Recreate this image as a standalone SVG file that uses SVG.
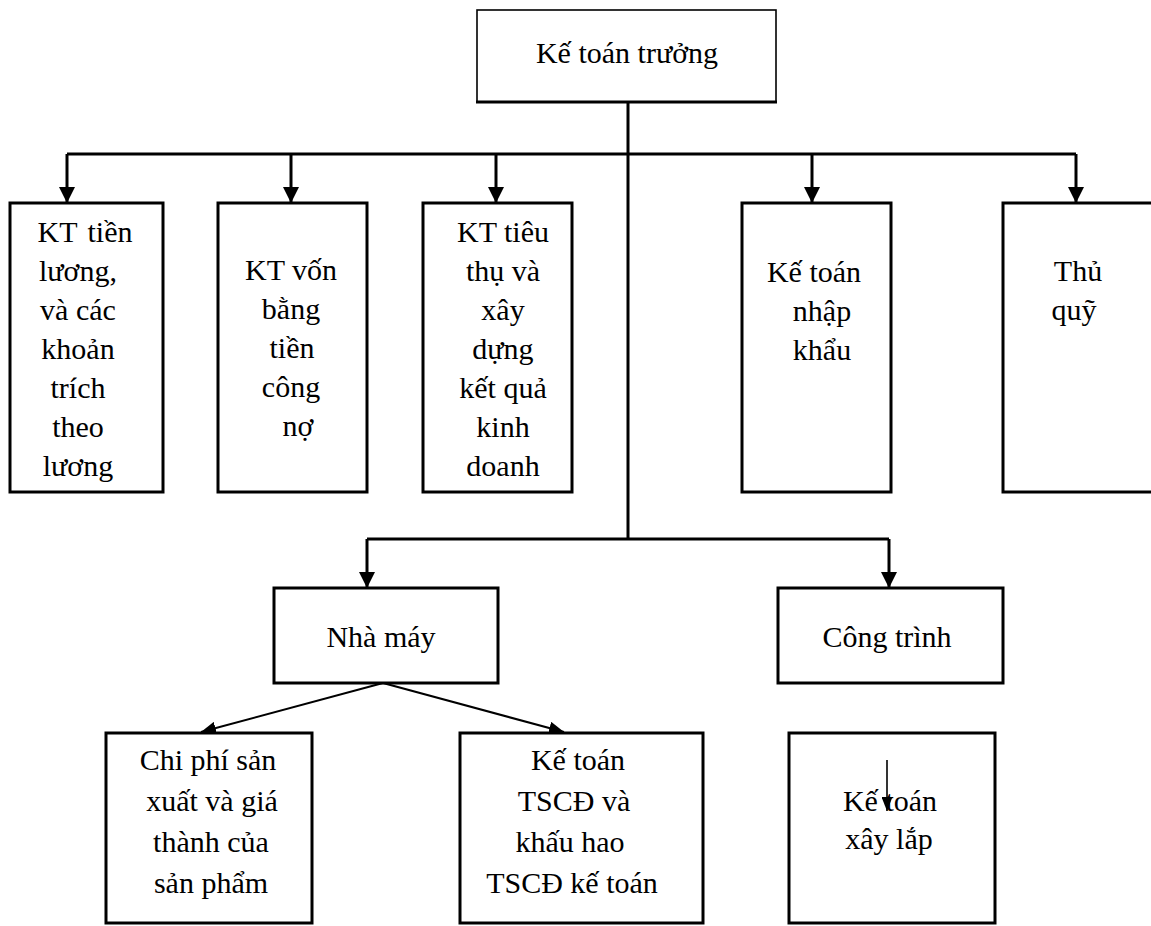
<svg xmlns="http://www.w3.org/2000/svg" width="1151" height="926" viewBox="0 0 1151 926">
<style>
.box{fill:#fff;stroke:#000;stroke-width:3}
.thin{fill:#fff;stroke:#000;stroke-width:1.6}
.t{font-family:"Liberation Serif","Times New Roman",serif;font-size:30px;fill:#000;text-anchor:middle}
.c{fill:none;stroke:#000;stroke-width:3}
.d{fill:none;stroke:#000;stroke-width:2}
.s{fill:none;stroke:#000;stroke-width:1.6}
</style>
<defs>
<marker id="ah" markerUnits="userSpaceOnUse" markerWidth="16" markerHeight="16" refX="16" refY="8" orient="auto" viewBox="0 0 16 16"><path d="M0,0 L16,8 L0,16 z" fill="#000"/></marker>
<marker id="ahd" markerUnits="userSpaceOnUse" markerWidth="15" markerHeight="13" refX="15" refY="6.5" orient="auto" viewBox="0 0 15 13"><path d="M0,0 L15,6.5 L0,13 z" fill="#000"/></marker>
<marker id="ahs" markerUnits="userSpaceOnUse" markerWidth="14" markerHeight="11" refX="14" refY="5.5" orient="auto" viewBox="0 0 14 11"><path d="M0,0 L14,5.5 L0,11 z" fill="#000"/></marker>
</defs>
<rect width="1151" height="926" fill="#fff"/>

<g id="connectors">
<path class="c" d="M628,102 V539"/>
<path class="c" d="M67,154 H1076"/>
<path class="c" d="M67,154 V203" marker-end="url(#ah)"/>
<path class="c" d="M291,154 V203" marker-end="url(#ah)"/>
<path class="c" d="M496,154 V203" marker-end="url(#ah)"/>
<path class="c" d="M812,154 V203" marker-end="url(#ah)"/>
<path class="c" d="M1076,154 V203" marker-end="url(#ah)"/>
<path class="c" d="M367,539 H889"/>
<path class="c" d="M367,539 V588" marker-end="url(#ah)"/>
<path class="c" d="M889,539 V588" marker-end="url(#ah)"/>
<path class="d" d="M383,683 L201,732" marker-end="url(#ahd)"/>
<path class="d" d="M383,683 L564,732" marker-end="url(#ahd)"/>
</g>

<g id="ke-toan-truong">
<rect class="thin" x="477" y="10" width="299" height="92"/>
<path class="c" d="M476,102 H777"/>
<text class="t" x="627" y="63">Kế toán trưởng</text>
</g>

<g id="kt-tien-luong">
<rect class="box" x="10" y="203" width="153" height="289"/>
<text class="t"><tspan x="85" y="242" word-spacing="3">KT tiền</tspan><tspan x="78" y="281">lương,</tspan><tspan x="78" y="320">và các</tspan><tspan x="78" y="359">khoản</tspan><tspan x="78" y="398">trích</tspan><tspan x="78" y="437">theo</tspan><tspan x="78" y="476">lương</tspan></text>
</g>

<g id="kt-von-bang-tien">
<rect class="box" x="218" y="203" width="149" height="289"/>
<text class="t"><tspan x="291" y="280">KT vốn</tspan><tspan x="291" y="319">bằng</tspan><tspan x="292" y="358">tiền</tspan><tspan x="291" y="397">công</tspan><tspan x="298" y="436">nợ</tspan></text>
</g>

<g id="kt-tieu-thu">
<rect class="box" x="423" y="203" width="149" height="289"/>
<text class="t"><tspan x="503" y="242">KT tiêu</tspan><tspan x="503" y="281">thụ và</tspan><tspan x="503" y="320">xây</tspan><tspan x="503" y="359">dựng</tspan><tspan x="503" y="398">kết quả</tspan><tspan x="503" y="437">kinh</tspan><tspan x="503" y="476">doanh</tspan></text>
</g>

<g id="ke-toan-nhap-khau">
<rect class="box" x="742" y="203" width="149" height="289"/>
<text class="t"><tspan x="814" y="282">Kế toán</tspan><tspan x="822" y="321">nhập</tspan><tspan x="822" y="360">khẩu</tspan></text>
</g>

<g id="thu-quy">
<rect class="box" x="1003" y="203" width="160" height="289"/>
<text class="t"><tspan x="1078" y="281">Thủ</tspan><tspan x="1074" y="320">quỹ</tspan></text>
</g>

<g id="nha-may">
<rect class="box" x="274" y="588" width="224" height="95"/>
<text class="t" x="381" y="647">Nhà máy</text>
</g>

<g id="cong-trinh">
<rect class="box" x="778" y="588" width="225" height="95"/>
<text class="t" x="887" y="647">Công trình</text>
</g>

<g id="chi-phi-san-xuat">
<rect class="box" x="106" y="733" width="206" height="190"/>
<text class="t"><tspan x="208" y="770">Chi phí sản</tspan><tspan x="212" y="811">xuất và giá</tspan><tspan x="211" y="852">thành của</tspan><tspan x="211" y="893">sản phẩm</tspan></text>
</g>

<g id="ke-toan-tscd">
<rect class="box" x="460" y="733" width="243" height="190"/>
<text class="t"><tspan x="578" y="770">Kế toán</tspan><tspan x="574" y="811">TSCĐ và</tspan><tspan x="570" y="852">khấu hao</tspan><tspan x="572" y="893">TSCĐ kế toán</tspan></text>
</g>

<g id="ke-toan-xay-lap">
<rect class="box" x="789" y="733" width="206" height="190"/>
<text class="t"><tspan x="890" y="811">Kế toán</tspan><tspan x="889" y="849">xây lắp</tspan></text>
<path class="s" d="M887,760 V811" marker-end="url(#ahs)"/>
</g>
</svg>
